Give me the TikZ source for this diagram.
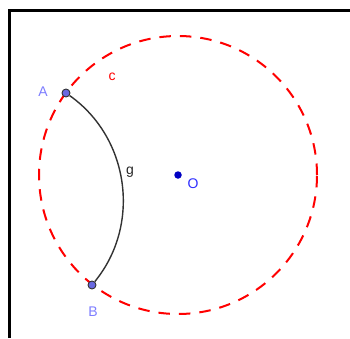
\documentclass[tikz,border=0pt]{standalone}
\usepackage{fontspec}
\setmainfont{Liberation Sans}
\usetikzlibrary{positioning}

\definecolor{ptfill}{RGB}{105,105,225}
\definecolor{ptlabel}{RGB}{125,125,255}
\definecolor{ctrblue}{RGB}{0,0,195}
\definecolor{olabel}{RGB}{45,45,255}

\begin{document}
\begin{tikzpicture}[
    x=1pt, y=1pt,
    frameline/.style={line width=3pt, black},
    circc/.style={line width=2pt, red, dash pattern=on 11.5pt off 9pt},
    arcg/.style={line width=1.4pt, black!80},
    point/.style={circle, draw=black!80, line width=0.9pt, fill=ptfill, inner sep=0pt, minimum size=8pt},
    center/.style={circle, fill=ctrblue, inner sep=0pt, minimum size=7.5pt},
    labeltext/.style={font=\fontsize{14}{16}\selectfont, inner sep=0pt}
]
\useasboundingbox (0,0) rectangle (350,338);

% Frame
\draw[frameline] (9,0) -- (9,327) -- (350,327);

% Circle c and its centre
\node[center] (O) at (178,163) {};
\draw[circc] (O.center) circle[radius=139];

% Points and arc g
\node[point] (A) at (66,245) {};
\node[point] (B) at (92,53) {};
\draw[arcg] (A) to[bend left=47] (B);

% Labels
\node[labeltext, text=ptlabel] (labA) at (43,246) {A};
\node[labeltext, text=ptlabel] (labB) at (93,26) {B};
\node[labeltext, text=red] (labc) at (112,261) {c};
\node[labeltext, text=black!85] (labg) at (130,166) {g};
\node[labeltext, text=olabel] (labO) at (193,154) {O};

\end{tikzpicture}
\end{document}
